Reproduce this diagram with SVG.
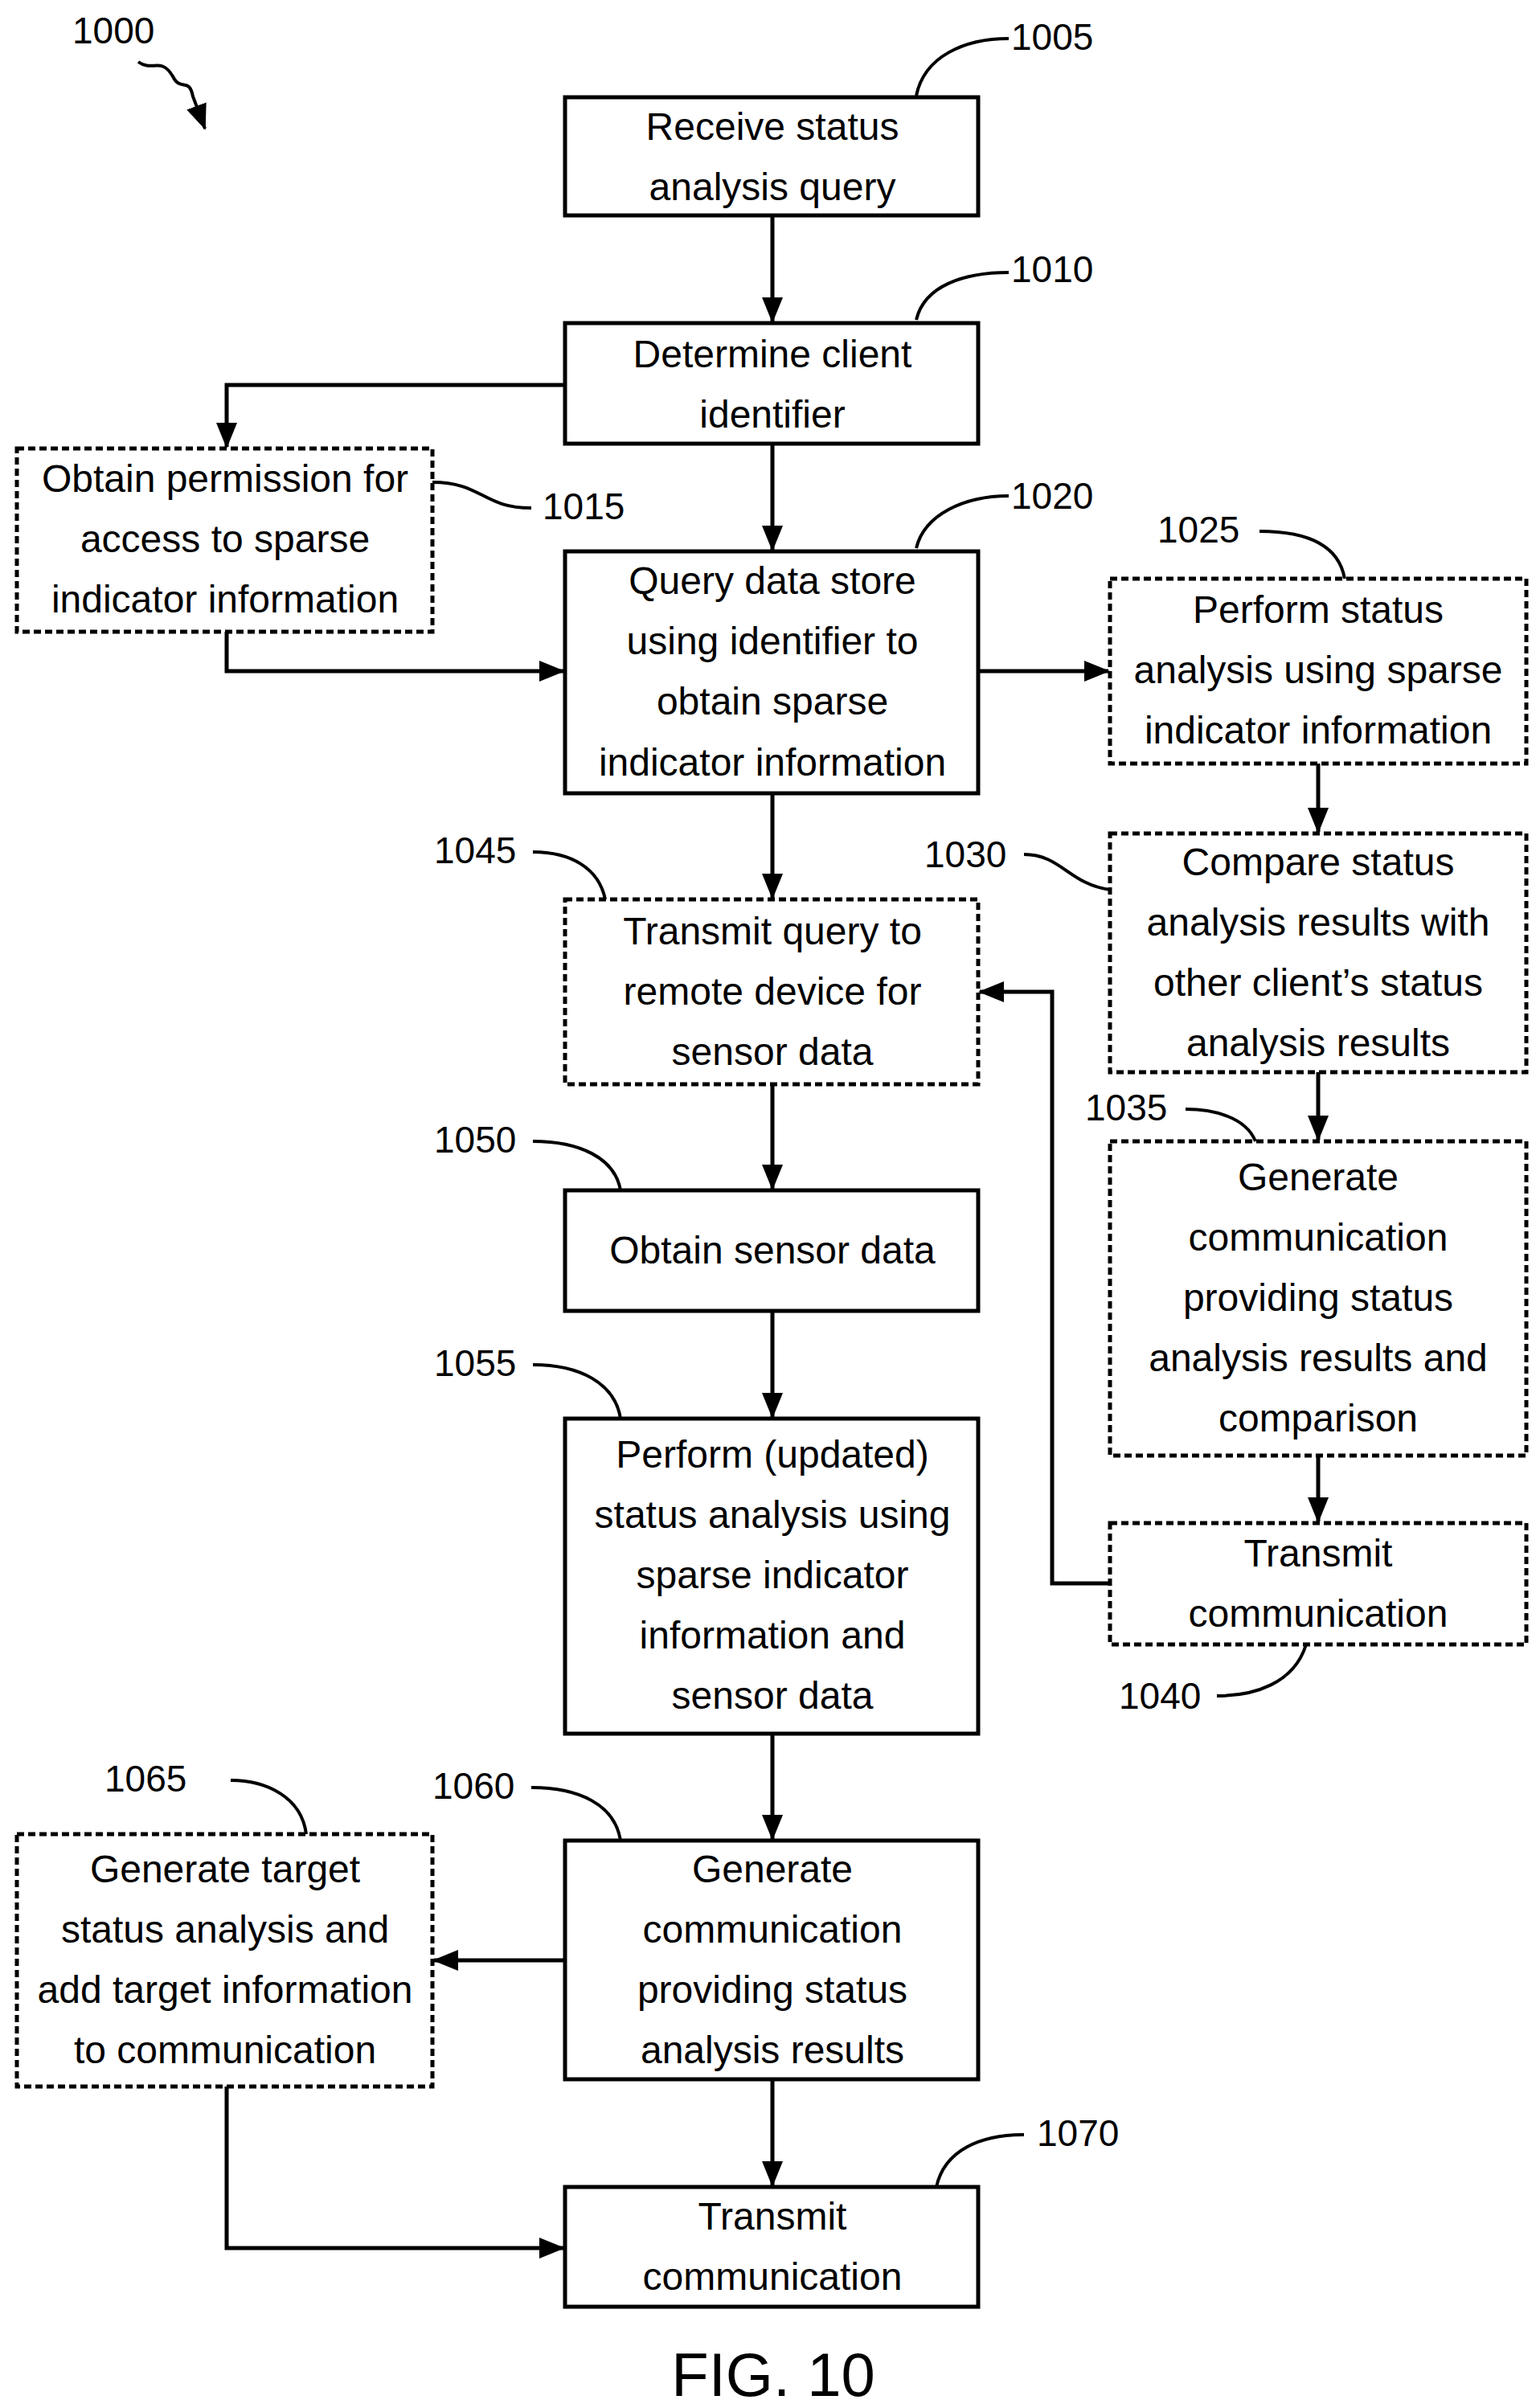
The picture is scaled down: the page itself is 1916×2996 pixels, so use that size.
<svg xmlns="http://www.w3.org/2000/svg" width="1916" height="2996" viewBox="0 0 1916 2996">
<style>
.b{fill:#fff;stroke:#000;stroke-width:5}
.d{fill:#fff;stroke:#000;stroke-width:5;stroke-dasharray:9 5}
text{font-family:"Liberation Sans",Arial,sans-serif;font-size:48px;fill:#000;text-anchor:middle;dominant-baseline:central}
.l{text-anchor:start;font-size:46px}
.c{fill:none;stroke:#000;stroke-width:5}
.k{fill:none;stroke:#000;stroke-width:4}
</style>
<defs>
<marker id="a" markerUnits="userSpaceOnUse" markerWidth="32" markerHeight="26" refX="30" refY="13" orient="auto">
<path d="M0,0 L32,13 L0,26 Z" fill="#000"/>
</marker>
</defs>
<rect width="1916" height="2996" fill="#fff"/>
<g id="connectors">
<path class="c" d="M961,268V400" marker-end="url(#a)"/>
<path class="c" d="M703,479H282V556" marker-end="url(#a)"/>
<path class="c" d="M961,552V684" marker-end="url(#a)"/>
<path class="c" d="M282,786V835H701" marker-end="url(#a)"/>
<path class="c" d="M1217,835H1379" marker-end="url(#a)"/>
<path class="c" d="M1640,950V1035" marker-end="url(#a)"/>
<path class="c" d="M1640,1334V1418" marker-end="url(#a)"/>
<path class="c" d="M1640,1811V1893" marker-end="url(#a)"/>
<path class="c" d="M1381,1970H1309V1234H1219" marker-end="url(#a)"/>
<path class="c" d="M961,987V1117" marker-end="url(#a)"/>
<path class="c" d="M961,1349V1479" marker-end="url(#a)"/>
<path class="c" d="M961,1631V1763" marker-end="url(#a)"/>
<path class="c" d="M961,2157V2288" marker-end="url(#a)"/>
<path class="c" d="M961,2587V2719" marker-end="url(#a)"/>
<path class="c" d="M703,2439H540" marker-end="url(#a)"/>
<path class="c" d="M282,2596V2797H701" marker-end="url(#a)"/>
</g>
<g id="n1000"><text class="l" x="90" y="38">1000</text><path class="k" d="M172,77 C190,90 200,70 215,95 C225,115 235,95 240,120 L255,160" marker-end="url(#a)"/></g>
<g id="n1005"><rect class="b" x="703" y="121" width="514" height="147"/><text x="961" y="157">Receive status</text><text x="961" y="232">analysis query</text>
<path class="k" d="M1140,119 C1150,70 1200,48 1255,48"/><text class="l" x="1258" y="46">1005</text></g>
<g id="n1010"><rect class="b" x="703" y="402" width="514" height="150"/><text x="961" y="440">Determine client</text><text x="961" y="515">identifier</text>
<path class="k" d="M1140,398 C1150,355 1200,339 1255,339"/><text class="l" x="1258" y="335">1010</text></g>
<g id="n1015"><rect class="d" x="21" y="558" width="517" height="228"/><text x="280" y="595">Obtain permission for</text><text x="280" y="670">access to sparse</text><text x="280" y="745">indicator information</text>
<path class="k" d="M538,600 C600,600 600,632 661,632"/><text class="l" x="675" y="630">1015</text></g>
<g id="n1020"><rect class="b" x="703" y="686" width="514" height="301"/><text x="961" y="722">Query data store</text><text x="961" y="797">using identifier to</text><text x="961" y="872">obtain sparse</text><text x="961" y="948">indicator information</text>
<path class="k" d="M1140,682 C1150,640 1200,617 1255,617"/><text class="l" x="1258" y="617">1020</text></g>
<g id="n1025"><rect class="d" x="1381" y="720" width="518" height="230"/><text x="1640" y="758">Perform status</text><text x="1640" y="833">analysis using sparse</text><text x="1640" y="908">indicator information</text>
<path class="k" d="M1673,720 C1665,675 1620,661 1567,661"/><text class="l" x="1440" y="659">1025</text></g>
<g id="n1030"><rect class="d" x="1381" y="1037" width="518" height="297"/><text x="1640" y="1072">Compare status</text><text x="1640" y="1147">analysis results with</text><text x="1640" y="1222">other client’s status</text><text x="1640" y="1297">analysis results</text>
<path class="k" d="M1381,1107 C1330,1100 1320,1063 1274,1063"/><text class="l" x="1150" y="1063">1030</text></g>
<g id="n1035"><rect class="d" x="1381" y="1420" width="518" height="391"/><text x="1640" y="1464">Generate</text><text x="1640" y="1539">communication</text><text x="1640" y="1614">providing status</text><text x="1640" y="1689">analysis results and</text><text x="1640" y="1764">comparison</text>
<path class="k" d="M1562,1420 C1550,1390 1510,1380 1475,1380"/><text class="l" x="1350" y="1378">1035</text></g>
<g id="n1040"><rect class="d" x="1381" y="1895" width="518" height="151"/><text x="1640" y="1932">Transmit</text><text x="1640" y="2007">communication</text>
<path class="k" d="M1625,2046 C1610,2095 1560,2110 1514,2110"/><text class="l" x="1392" y="2110">1040</text></g>
<g id="n1045"><rect class="d" x="703" y="1119" width="514" height="230"/><text x="961" y="1158">Transmit query to</text><text x="961" y="1233">remote device for</text><text x="961" y="1308">sensor data</text>
<path class="k" d="M753,1119 C745,1080 710,1060 663,1060"/><text class="l" x="540" y="1058">1045</text></g>
<g id="n1050"><rect class="b" x="703" y="1481" width="514" height="150"/><text x="961" y="1555">Obtain sensor data</text>
<path class="k" d="M772,1481 C765,1440 720,1420 663,1420"/><text class="l" x="540" y="1418">1050</text></g>
<g id="n1055"><rect class="b" x="703" y="1765" width="514" height="392"/><text x="961" y="1809">Perform (updated)</text><text x="961" y="1884">status analysis using</text><text x="961" y="1959">sparse indicator</text><text x="961" y="2034">information and</text><text x="961" y="2109">sensor data</text>
<path class="k" d="M772,1765 C765,1720 720,1698 663,1698"/><text class="l" x="540" y="1696">1055</text></g>
<g id="n1060"><rect class="b" x="703" y="2290" width="514" height="297"/><text x="961" y="2325">Generate</text><text x="961" y="2400">communication</text><text x="961" y="2475">providing status</text><text x="961" y="2550">analysis results</text>
<path class="k" d="M772,2290 C765,2245 720,2224 661,2224"/><text class="l" x="538" y="2222">1060</text></g>
<g id="n1065"><rect class="d" x="21" y="2282" width="517" height="314"/><text x="280" y="2325">Generate target</text><text x="280" y="2400">status analysis and</text><text x="280" y="2475">add target information</text><text x="280" y="2550">to communication</text>
<path class="k" d="M381,2282 C375,2235 330,2215 287,2215"/><text class="l" x="130" y="2213">1065</text></g>
<g id="n1070"><rect class="b" x="703" y="2721" width="514" height="149"/><text x="961" y="2757">Transmit</text><text x="961" y="2832">communication</text>
<path class="k" d="M1165,2721 C1175,2675 1220,2656 1274,2656"/><text class="l" x="1290" y="2654">1070</text></g>
<text x="962" y="2954" style="font-size:76px">FIG. 10</text>
</svg>
